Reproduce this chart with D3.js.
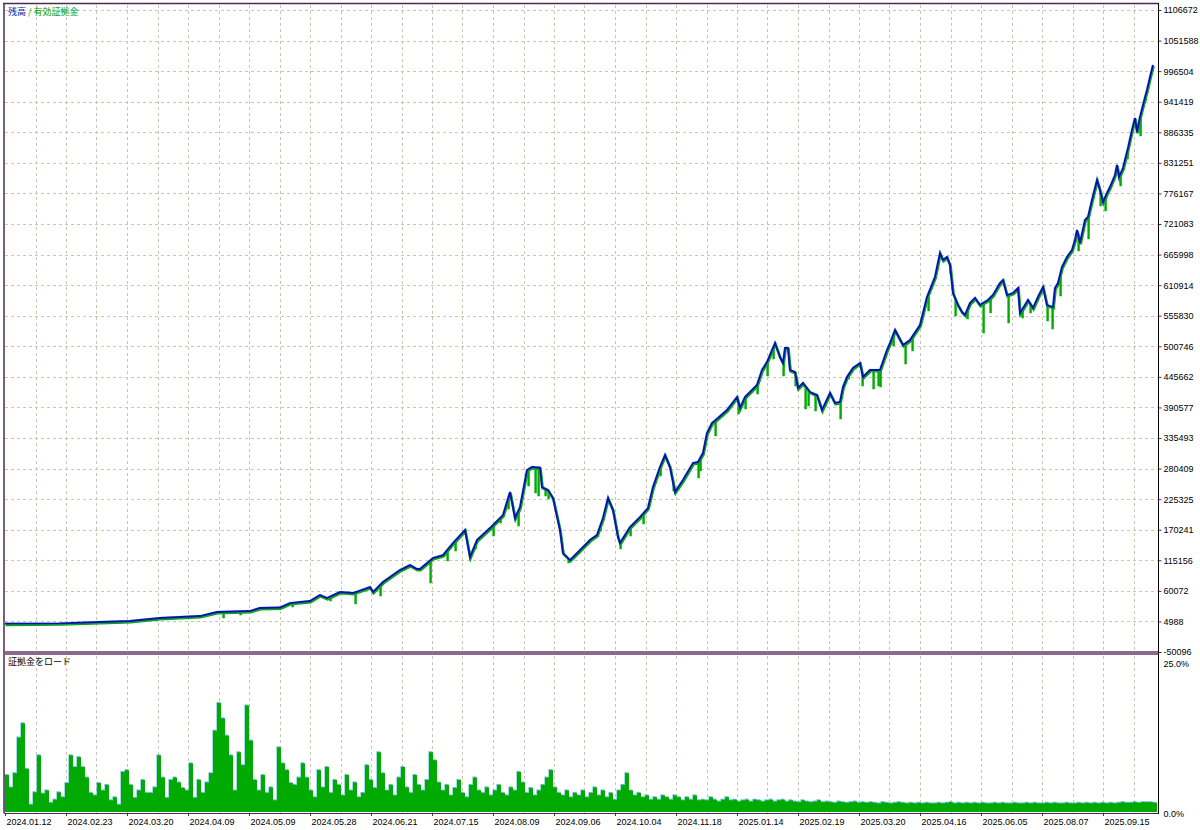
<!DOCTYPE html>
<html lang="ja">
<head>
<meta charset="utf-8">
<title>残高 / 有効証拠金</title>
<script src="https://d3js.org/d3.v7.min.js"></script>
<style>
body{margin:0;background:#fff;}
text{font-family:"Liberation Sans",Tahoma,sans-serif;font-size:9px;fill:#000;}
.jp{font-family:"Noto Sans CJK JP",sans-serif;font-size:9px;}
</style>
</head>
<body>
<div id="chart"></div>
<script>
var w = 1200, h = 830;

// right axis labels (balance)
var yLabels = [-50096, 4988, 60072, 115156, 170241, 225325, 280409, 335493, 390577, 445662,
  500746, 555830, 610914, 665998, 721083, 776167, 831251, 886335, 941419, 996504, 1051588, 1106672];
// date labels every 61 bars
var xLabels = ["2024.01.12","2024.02.23","2024.03.20","2024.04.09","2024.05.09","2024.05.28",
  "2024.06.21","2024.07.15","2024.08.09","2024.09.06","2024.10.04","2024.11.18","2025.01.14",
  "2025.02.19","2025.03.20","2025.04.16","2025.06.05","2025.08.07","2025.09.15"];
var labelEvery = 61;
var barCount = 1150;

// balance: [bar, value]
var balance = [
 [0,1000],[55,1500],[95,3848],[125,5650],[155,11056],[175,12858],[195,14660],[212,21868],[245,23670],
 [255,29074],[275,30000],[285,38086],[305,41690],[315,52502],[322,47096],[335,57908],[348,56106],
 [365,66918],[368,57908],[378,75928],[395,97552],[405,106562],[412,99354],[415,99354],[428,119176],
 [438,124582],[448,146206],[460,169632],[465,120978],[472,151612],[485,173236],[498,196662],
 [505,238108],[510,191256],[515,211078],[522,277752],[527,283158],[535,282000],[537,247118],
 [543,241712],[548,227296],[555,169632],[558,128186],[565,115572],[575,133592],[585,151612],
 [592,160622],[598,191256],[603,227296],[608,205672],[613,157018],[615,146206],[625,175038],
 [635,193058],[643,209276],[648,247118],[655,283158],[660,304782],[665,283158],[670,238108],
 [678,259732],[688,290366],[693,292168],[698,308386],[702,344426],[707,362446],[713,371456],
 [722,385872],[732,409298],[735,389476],[740,409298],[752,430922],[757,457952],[762,472368],
 [767,493992],[770,506606],[775,481378],[778,470566],[780,497596],[783,497596],[785,457952],
 [790,454348],[793,425516],[798,434526],[805,418308],[812,412902],[817,385872],[825,416506],
 [830,398486],[835,400288],[838,427318],[842,445338],[848,461556],[855,470566],[858,445338],
 [865,457952],[875,457952],[882,493992],[885,506606],[890,530032],[898,503002],[905,512012],
 [915,539042],[922,589498],[930,625538],[935,668786],[938,656172],[942,661578],[945,647162],
 [948,596706],[953,575082],[957,562468],[960,557062],[965,578686],[970,587696],[975,575082],
 [978,578686],[983,584092],[988,593102],[995,614726],[998,620132],[1002,593102],[1008,596706],
 [1013,605716],[1015,560666],[1020,575082],[1023,584092],[1028,569676],[1033,589498],[1038,607518],
 [1042,575082],[1048,571478],[1050,605716],[1053,614726],[1057,643558],[1062,661578],[1067,674192],
 [1070,692212],[1072,710232],[1075,686806],[1080,728252],[1083,733658],[1087,764292],[1092,800332],
 [1095,782312],[1098,760688],[1102,776906],[1105,787718],[1110,809342],[1112,827362],[1114,805738],
 [1118,821956],[1123,857996],[1127,890432],[1130,912056],[1132,886828],[1135,913858],[1138,935482],
 [1142,962512],[1145,985938],[1148,1007562]
];

// equity lows where it falls under balance: [bar, value]
var equityLows = [
 [218,12858],[235,18264],[287,32680],[325,43492],[350,38086],[375,52502],[425,75928],[442,115572],
 [450,133592],[470,137196],[488,160622],[495,184048],[503,209276],[513,178642],[523,250722],
 [530,238108],[533,232702],[540,232702],[543,227296],[563,111968],[595,169632],[615,137196],
 [625,160622],[638,182246],[655,268742],[668,241712],[693,265138],[695,277752],[710,340822],
 [733,380466],[740,389476],[752,416506],[762,448942],[768,479576],[778,448942],[790,430922],
 [800,389476],[803,394882],[810,385872],[820,394882],[835,371456],[843,443536],[857,430922],
 [868,425516],[873,430922],[875,429120],[888,503002],[900,470566],[907,494000],[923,566072],
 [945,632746],[950,557062],[962,551656],[978,526428],[985,562468],[1003,544448],[1017,553458],
 [1025,562468],[1042,548052],[1047,533636],[1055,593102],[1073,674192],[1083,695816],
 [1095,755282],[1100,746272],[1115,791322],[1122,839976],[1135,881422],[1140,944492]
];

// deposit load %, one value per 4 bars
var load = [
 6.0,4.0,6.3,12.1,14.4,7.0,1.2,3.2,9.2,3.0, 3.5,1.5,2.0,3.2,2.4,4.7,9.2,7.3,8.9,7.3,
 5.6,3.1,2.7,4.7,3.5,4.4,1.9,2.4,1.2,6.5, 6.8,4.4,2.3,3.5,5.2,3.1,3.1,4.0,9.2,5.6,
 2.3,5.2,5.6,4.8,3.9,3.5,7.9,2.3,5.2,3.1, 4.8,6.3,13.2,17.7,15.2,12.4,9.2,3.5,9.7,7.6,
 17.3,11.6,5.2,3.5,6.0,3.1,4.0,1.9,10.5,7.9, 6.8,4.7,4.4,5.6,
 7.9,5.6,3.5,2.4,6.8,4.0,7.3,3.1,5.2,4.4,
 2.7,6.0,3.5,4.8,2.4,3.1,7.6,5.2,3.9,9.7,
 6.3,3.5,4.4,2.7,5.6,7.3,4.0,3.1,6.0,4.4,
 3.5,5.2,9.7,8.4,4.8,3.5,4.4,2.7,3.9,5.2,
 3.1,2.4,4.4,5.6,3.5,3.1,4.0,2.7,3.5,4.4,
 3.1,2.7,4.0,3.5,6.5,4.8,3.1,3.9,2.7,3.5,
 4.4,5.6,6.8,4.0,3.1,2.7,3.5,2.4,3.1,2.7,
 3.5,2.4,3.1,4.0,2.7,3.5,2.4,3.1,2.0,3.5,
 4.4,6.3,3.5,2.7,3.1,2.4,2.7,2.0,2.4,2.0,
 2.7,2.4,2.0,2.7,2.4,1.9,2.4,2.0,2.7,1.9,
 2.0,1.9,2.4,2.0,1.7,2.0,2.4,1.9,2.0,1.7,
 1.9,2.0,1.7,2.0,1.9,1.7,1.9,2.0,1.7,1.9,
 2.0,1.7,1.9,1.7,1.6,1.9,1.7,1.6,1.7,1.9,
 1.6,1.7,1.6,1.5,1.7,1.6,1.5,1.6,1.7,1.5,
 1.6,1.5,1.6,1.5,1.4,1.6,1.5,1.4,1.5,1.6,
 1.5,1.4,1.5,1.4,1.5,1.4,1.5,1.4,1.4,1.5,
 1.4,1.5,1.6,1.4,1.5,1.4,1.5,1.4,1.5,1.4,
 1.5,1.4,1.4,1.5,1.4,1.5,1.4,1.4,1.5,1.4,
 1.4,1.5,1.4,1.5,1.4,1.4,1.5,1.4,1.5,1.4,
 1.4,1.5,1.4,1.4,1.5,1.4,1.5,1.4,1.5,1.4,
 1.5,1.4,1.5,1.4,1.5,1.6,1.5,1.5,1.6,1.5,1.6,1.6,1.6,1.5
];
var loadBars = 4;

var left = 5, right = 1158;
var mainTop = 5, mainBottom = 651, subTop = 656, subBottom = 813;
var frameColor = "#4b2a55", gridColor = "#c9c6b4";

var xScale = d3.scaleLinear().domain([0, barCount]).range([left, 1155]);
var yScale = d3.scaleLinear().domain([-50096, 1106672]).range([652, 10]);
var ddScale = d3.scaleLinear().domain([0, 25]).range([subBottom - 1, 658]);

var svg = d3.select("#chart").append("svg").attr("width", w).attr("height", h);

// grid
var gridG = svg.append("g").attr("stroke", gridColor).attr("stroke-dasharray", "3,3").attr("stroke-width", 1);
for (var k = 1; k * labelEvery / 2 < barCount; k++) {
  var gx = Math.round(xScale(k * labelEvery / 2)) + 0.5;
  gridG.append("line").attr("x1", gx).attr("x2", gx).attr("y1", mainTop).attr("y2", mainBottom);
  gridG.append("line").attr("x1", gx).attr("x2", gx).attr("y1", subTop).attr("y2", subBottom);
}
yLabels.forEach(function(v, i){
  if (i == 0) return;
  var gy = Math.round(yScale(v)) + 0.5;
  gridG.append("line").attr("x1", left).attr("x2", right).attr("y1", gy).attr("y2", gy);
});

// deposit load bars
var loadG = svg.append("g");
loadG.selectAll("rect.edge").data(load).enter().append("rect")
  .attr("class", "edge")
  .attr("x", function(d, i){ return xScale(i * loadBars) - 0.6; })
  .attr("width", xScale(loadBars) - xScale(0))
  .attr("y", function(d){ return ddScale(d) - 1; })
  .attr("height", function(d){ return ddScale(0) - ddScale(d) + 1; })
  .attr("fill", "#6cc0e0");
loadG.selectAll("rect.bar").data(load).enter().append("rect")
  .attr("class", "bar")
  .attr("x", function(d, i){ return xScale(i * loadBars); })
  .attr("width", xScale(loadBars) - xScale(0))
  .attr("y", function(d){ return ddScale(d); })
  .attr("height", function(d){ return ddScale(0) - ddScale(d); })
  .attr("fill", "#00aa00");

// equity + balance
function balanceAt(bar){
  var i = d3.bisector(function(d){ return d[0]; }).left(balance, bar);
  if (i <= 0) return balance[0][1];
  if (i >= balance.length) return balance[balance.length - 1][1];
  var a = balance[i - 1], b = balance[i];
  return a[1] + (b[1] - a[1]) * (bar - a[0]) / (b[0] - a[0]);
}
var line = d3.line().x(function(d){ return xScale(d[0]); }).y(function(d){ return yScale(d[1]); });

var eqG = svg.append("g").attr("transform", "translate(0.6,1.2)");
eqG.append("path").datum(balance).attr("d", line)
  .attr("fill", "none").attr("stroke", "#00aa00").attr("stroke-width", 2.6);
eqG.selectAll("line").data(equityLows).enter().append("line")
  .attr("x1", function(d){ return xScale(d[0]); })
  .attr("x2", function(d){ return xScale(d[0]); })
  .attr("y1", function(d){ return yScale(balanceAt(d[0])); })
  .attr("y2", function(d){ return yScale(d[1]); })
  .attr("stroke", "#00aa00").attr("stroke-width", 2.4);

svg.append("path").datum(balance).attr("d", line)
  .attr("fill", "none").attr("stroke", "#5aaee0").attr("stroke-width", 2.8).attr("opacity", 0.45);
svg.append("path").datum(balance).attr("d", line)
  .attr("fill", "none").attr("stroke", "#0812a8").attr("stroke-width", 1.9);

// frame + separator
svg.append("rect").attr("x", left).attr("y", mainBottom).attr("width", right - left).attr("height", 4).attr("fill", "#8c6a8e");
svg.append("line").attr("x1", 3).attr("x2", right).attr("y1", 3.5).attr("y2", 3.5).attr("stroke", frameColor).attr("stroke-width", 1.5);
svg.append("line").attr("x1", 4).attr("x2", 4).attr("y1", 3).attr("y2", subBottom).attr("stroke", frameColor).attr("stroke-width", 1.5);
svg.append("line").attr("x1", 4).attr("x2", right).attr("y1", subBottom + 0.5).attr("y2", subBottom + 0.5).attr("stroke", frameColor).attr("stroke-width", 1);
svg.append("line").attr("x1", right + 0.5).attr("x2", right + 0.5).attr("y1", 3).attr("y2", subBottom + 1).attr("stroke", "#000").attr("stroke-width", 1);

// right axis
var yAxis = d3.axisRight(yScale).tickValues(yLabels).tickSize(3).tickPadding(2)
  .tickFormat(function(d){ return d; });
var yAx = svg.append("g").attr("transform", "translate(" + (right + 0.5) + ",0)").call(yAxis);
yAx.select(".domain").remove();
yAx.selectAll("line").attr("stroke", frameColor);
yAx.selectAll("text").style("font-family", "Liberation Sans, sans-serif").style("font-size", "9px");

var ddAxis = d3.axisRight(ddScale).tickValues([25, 0]).tickSize(0).tickPadding(5)
  .tickFormat(function(d){ return d.toFixed(1) + "%"; });
var ddAx = svg.append("g").attr("transform", "translate(" + (right + 0.5) + ",0)").call(ddAxis);
ddAx.select(".domain").remove();
ddAx.selectAll("text").attr("dy", function(d){ return d == 25 ? "0.9em" : "0.55em"; })
  .style("font-family", "Liberation Sans, sans-serif").style("font-size", "9px");

// bottom axis with dates
var xAx = svg.append("g");
xLabels.forEach(function(lab, i){
  var tx = Math.round(xScale(i * labelEvery)) + 0.5;
  xAx.append("line").attr("x1", tx).attr("x2", tx).attr("y1", subBottom).attr("y2", subBottom + 3).attr("stroke", frameColor);
  xAx.append("text").attr("x", tx + 1).attr("y", 825).text(lab);
});

// titles
var t1 = svg.append("text").attr("class", "jp").attr("x", 8).attr("y", 15);
t1.append("tspan").style("fill", "#0a1aa0").text("残高 ");
t1.append("tspan").style("fill", "#00a000").text("/ 有効証拠金");
svg.append("text").attr("class", "jp").attr("x", 8).attr("y", 665).text("証拠金をロード");
</script>
</body>
</html>
